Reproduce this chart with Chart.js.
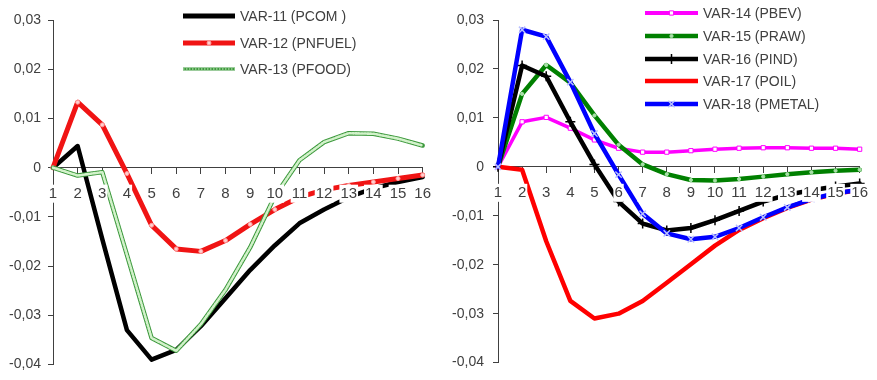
<!DOCTYPE html>
<html>
<head>
<meta charset="utf-8">
<script src="https://cdn.jsdelivr.net/npm/chart.js@4/dist/chart.umd.min.js"></script>
<style>
  html, body { margin: 0; padding: 0; background: #ffffff; }
  #wrap { display: flex; width: 877px; height: 380px; }
  canvas { display: block; }
</style>
</head>
<body>
<div id="wrap">
  <canvas id="left" width="440" height="380"></canvas>
  <canvas id="right" width="437" height="380"></canvas>
</div>
<script>
// Horizon (periods after the shock)
const periods = ['1','2','3','4','5','6','7','8','9','10','11','12','13','14','15','16'];
// Value axis ticks
const yTickValues = [-0.04, -0.03, -0.02, -0.01, 0, 0.01, 0.02, 0.03];

// Left panel: aggregate commodity price responses
const pcom   = [0, 0.0044, -0.0145, -0.0330, -0.0390, -0.0370, -0.0322, -0.0265, -0.0208, -0.0158, -0.0113, -0.0085, -0.0060, -0.0042, -0.0029, -0.0019];
const pnfuel = [0, 0.0133, 0.0087, -0.0012, -0.0117, -0.0165, -0.0170, -0.0148, -0.0115, -0.0085, -0.0060, -0.0045, -0.0036, -0.0029, -0.0022, -0.0015];
const pfood  = [0, -0.0016, -0.0009, -0.0177, -0.0346, -0.0372, -0.0318, -0.0248, -0.0162, -0.0058, 0.0015, 0.0052, 0.0070, 0.0069, 0.0059, 0.0045];

// Right panel: sub-index responses
const pbev   = [0, 0.0092, 0.0101, 0.0079, 0.0055, 0.0038, 0.0030, 0.0030, 0.0033, 0.0036, 0.0038, 0.0039, 0.0039, 0.0038, 0.0038, 0.0036];
const praw   = [0, 0.0149, 0.0208, 0.0172, 0.0105, 0.0045, 0.0005, -0.0015, -0.0027, -0.0028, -0.0025, -0.0020, -0.0015, -0.0011, -0.0008, -0.0006];
const pind   = [0, 0.0207, 0.0185, 0.0092, 0.0005, -0.0071, -0.0116, -0.0130, -0.0125, -0.0109, -0.0090, -0.0071, -0.0057, -0.0048, -0.0040, -0.0034];
const poil   = [0, -0.0006, -0.0152, -0.0274, -0.0310, -0.0300, -0.0274, -0.0237, -0.0199, -0.0161, -0.0129, -0.0105, -0.0084, -0.0067, -0.0055, -0.0047];
const pmetal = [0, 0.0280, 0.0266, 0.0173, 0.0068, -0.0016, -0.0096, -0.0136, -0.0148, -0.0143, -0.0125, -0.0103, -0.0083, -0.0066, -0.0054, -0.0047];

const TEXT = '#404040';
const AXIS = '#404040';
const FONT_FAMILY = '"Liberation Sans", Arial, sans-serif';

// Legend drawn inside the plot area, next to the curves
const insideLegend = {
  id: 'insideLegend',
  afterDatasetsDraw(chart, args, opts) {
    const ctx = chart.ctx;
    chart.data.datasets.forEach(ds => {
      if (ds.legendRow === undefined) return;
      const y = opts.rows[ds.legendRow];
      ctx.save();
      ctx.strokeStyle = ds.borderColor;
      ctx.lineWidth = ds.legendLineWidth || ds.borderWidth;
      ctx.lineCap = 'butt';
      ctx.setLineDash(ds.legendDash || ds.borderDash || []);
      ctx.beginPath();
      ctx.moveTo(opts.x0, y);
      ctx.lineTo(opts.x1, y);
      ctx.stroke();
      ctx.setLineDash([]);
      if (ds.pointRadius > 0 && Chart.helpers && Chart.helpers.drawPoint) {
        ctx.fillStyle = ds.pointBackgroundColor || ds.borderColor;
        ctx.strokeStyle = ds.pointBorderColor || ds.borderColor;
        ctx.lineWidth = ds.pointBorderWidth || 1;
        Chart.helpers.drawPoint(ctx, {
          pointStyle: ds.pointStyle || 'circle',
          rotation: 0,
          radius: ds.pointRadius,
          borderWidth: ds.pointBorderWidth || 1
        }, (opts.x0 + opts.x1) / 2, y);
      }
      if (!ds.overlay) {
        ctx.fillStyle = TEXT;
        ctx.font = '14px ' + FONT_FAMILY;
        ctx.textAlign = 'left';
        ctx.textBaseline = 'middle';
        ctx.fillText(ds.label, opts.textX, y + 1);
      }
      ctx.restore();
    });
  }
};

function fmtTick(v) {
  const r = Math.round(v * 100) / 100;
  if (r === 0) return '0';
  return r.toFixed(2).replace('.', ',');
}

function makeChart(canvasId, datasets, geo) {
  return new Chart(document.getElementById(canvasId), {
    type: 'line',
    data: { labels: periods, datasets: datasets },
    options: {
      responsive: false,
      animation: false,
      devicePixelRatio: 1,
      events: [],
      layout: { padding: { left: 0, top: 20, right: geo.padRight, bottom: 12 } },
      elements: {
        line: { tension: 0, borderJoinStyle: 'round', borderCapStyle: 'round', fill: false },
        point: { radius: 0, hoverRadius: 0 }
      },
      scales: {
        x: {
          type: 'category',
          position: { y: 0 },
          offset: false,
          grid: { display: true, drawOnChartArea: false, drawTicks: true, tickLength: 6, color: AXIS, lineWidth: 1 },
          border: { display: true, color: AXIS, width: 1 },
          ticks: { display: false },
          afterFit(scale) { scale.height = 0; }
        },
        // Category labels drawn above the curves with a white backdrop
        xl: {
          type: 'category',
          position: { y: 0 },
          offset: false,
          grid: { display: false },
          border: { display: false },
          ticks: {
            z: 1,
            color: TEXT,
            font: { family: FONT_FAMILY, size: 15 },
            padding: 9,
            maxRotation: 0,
            autoSkip: false,
            showLabelBackdrop: true,
            backdropColor: '#ffffff',
            backdropPadding: { left: 1, right: 1, top: 0, bottom: 0 }
          },
          afterFit(scale) { scale.height = 0; }
        },
        y: {
          type: 'linear',
          position: 'left',
          min: yTickValues[0],
          max: yTickValues[yTickValues.length - 1],
          afterBuildTicks(scale) { scale.ticks = yTickValues.map(v => ({ value: v })); },
          grid: { display: true, drawOnChartArea: false, drawTicks: true, tickLength: 5, color: AXIS, lineWidth: 1 },
          border: { display: true, color: AXIS, width: 1 },
          ticks: {
            color: TEXT,
            font: { family: FONT_FAMILY, size: 14 },
            padding: geo.yPad,
            callback: v => fmtTick(v)
          },
          afterFit(scale) { scale.width = geo.axisLeft; }
        }
      },
      plugins: {
        legend: { display: false },
        tooltip: { enabled: false },
        insideLegend: geo.legend
      }
    },
    plugins: [insideLegend]
  });
}

// Left panel
makeChart('left', [
  {
    label: 'VAR-11 (PCOM )', data: pcom, order: 4,
    borderColor: '#000000', borderWidth: 4.5, legendLineWidth: 5, legendRow: 0,
    pointRadius: 0
  },
  {
    label: 'VAR-12 (PNFUEL)', data: pnfuel, order: 3,
    borderColor: '#f01414', borderWidth: 5, legendRow: 1,
    pointRadius: 2, pointStyle: 'circle', pointBackgroundColor: '#ffd0d0',
    pointBorderColor: '#ff9a9a', pointBorderWidth: 1
  },
  {
    label: 'VAR-13 (PFOOD)', data: pfood, order: 2,
    borderColor: '#3d993d', borderWidth: 4.5, legendLineWidth: 3, legendRow: 2,
    pointRadius: 0
  },
  {
    label: 'VAR-13 (PFOOD)', data: pfood, order: 1, overlay: true,
    borderColor: '#d2f2ca', borderWidth: 2.6, borderDash: [1.5, 1.5], legendLineWidth: 1.2, legendRow: 2,
    pointRadius: 0
  }
], {
  axisLeft: 53, padRight: 16, yPad: 7,
  legend: { x0: 183, x1: 235, textX: 240, rows: [16, 43, 69] }
});

// Right panel
makeChart('right', [
  {
    label: 'VAR-14 (PBEV)', data: pbev, order: 5,
    borderColor: '#ff00ff', borderWidth: 3.5, legendLineWidth: 4, legendRow: 0,
    pointRadius: 3, pointStyle: 'rect', pointBackgroundColor: '#ffffff',
    pointBorderColor: '#ff00ff', pointBorderWidth: 1
  },
  {
    label: 'VAR-15 (PRAW)', data: praw, order: 4,
    borderColor: '#008000', borderWidth: 4.5, legendRow: 1,
    pointRadius: 1.6, pointStyle: 'circle', pointBackgroundColor: '#a8e0a8',
    pointBorderColor: '#a8e0a8', pointBorderWidth: 1
  },
  {
    label: 'VAR-16 (PIND)', data: pind, order: 3,
    borderColor: '#000000', borderWidth: 4.5, legendRow: 2,
    pointRadius: 5, pointStyle: 'cross', pointBackgroundColor: '#000000',
    pointBorderColor: '#000000', pointBorderWidth: 1.5
  },
  {
    label: 'VAR-17 (POIL)', data: poil, order: 2,
    borderColor: '#ff0000', borderWidth: 4.5, legendRow: 3,
    pointRadius: 0
  },
  {
    label: 'VAR-18 (PMETAL)', data: pmetal, order: 1,
    borderColor: '#0000ff', borderWidth: 4.5, legendRow: 4,
    pointRadius: 4.5, pointStyle: 'crossRot', pointBackgroundColor: '#b8c0ff',
    pointBorderColor: '#b8c0ff', pointBorderWidth: 1.5
  }
], {
  axisLeft: 58, padRight: 9, yPad: 9,
  legend: { x0: 205, x1: 258, textX: 263, rows: [13, 36, 59, 81, 104] }
});
</script>
</body>
</html>
